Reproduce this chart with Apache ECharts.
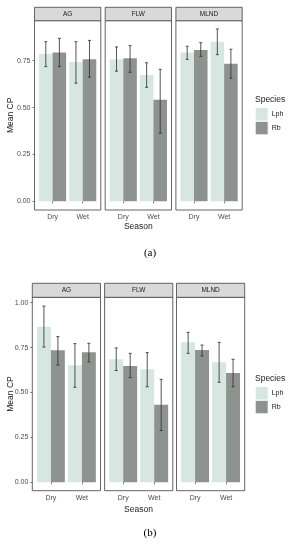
<!DOCTYPE html>
<html><head><meta charset="utf-8">
<script src="https://cdn.jsdelivr.net/npm/echarts@6/dist/echarts.min.js"></script>
<style>html,body{margin:0;padding:0;background:#fff}#c{width:294px;height:550px}</style>
</head><body><div id="c"></div>
<script>
// ---- data ----
const facets = ['AG', 'FLW', 'MLND'];
const seasons = ['Dry', 'Wet'];
const species = ['Lph', 'Rb'];
const yTicksA = [0, 0.25, 0.5, 0.75];
const yTicksB = [0, 0.25, 0.5, 0.75, 1.0];

// panel (a): [facet][season]
const aLphMean = [[0.786, 0.743], [0.757, 0.674], [0.793, 0.851]];
const aLphLo   = [[0.718, 0.630], [0.694, 0.608], [0.757, 0.782]];
const aLphHi   = [[0.851, 0.851], [0.823, 0.739], [0.827, 0.919]];
const aRbMean  = [[0.793, 0.757], [0.763, 0.541], [0.807, 0.734]];
const aRbLo    = [[0.718, 0.662], [0.688, 0.364], [0.773, 0.656]];
const aRbHi    = [[0.869, 0.858], [0.830, 0.704], [0.846, 0.811]];

// panel (b): [facet][season]
const bLphMean = [[0.866, 0.651], [0.685, 0.629], [0.779, 0.668]];
const bLphLo   = [[0.753, 0.529], [0.622, 0.532], [0.718, 0.557]];
const bLphHi   = [[0.981, 0.772], [0.748, 0.722], [0.835, 0.779]];
const bRbMean  = [[0.735, 0.724], [0.648, 0.432], [0.737, 0.608]];
const bRbLo    = [[0.653, 0.670], [0.583, 0.288], [0.703, 0.532]];
const bRbHi    = [[0.811, 0.774], [0.718, 0.573], [0.764, 0.685]];

// ---- layout / style ----
const FONT = 'Liberation Sans, Arial, sans-serif';
const colors = { Lph: '#d7e6e0', Rb: '#8e9390' };
const BORDER = '#555555';
const panels = [
  { lefts: [34.5, 105.2, 175.9], width: 66.3, stripTop: 7.3, top: 20.7, bottom: 210,
    ymin: -0.046, ymax: 0.963, ticks: yTicksA,
    data: { Lph: [aLphMean, aLphLo, aLphHi], Rb: [aRbMean, aRbLo, aRbHi] },
    legendTop: 108, speciesY: 100, seasonY: 227, capY: 253, cap: '(a)' },
  { lefts: [32.3, 104.6, 176.5], width: 68.2, stripTop: 283.3, top: 297.3, bottom: 490.7,
    ymin: -0.047, ymax: 1.03, ticks: yTicksB,
    data: { Lph: [bLphMean, bLphLo, bLphHi], Rb: [bRbMean, bRbLo, bRbHi] },
    legendTop: 387, speciesY: 379, seasonY: 510, capY: 533, cap: '(b)' }
];

const grid = [], xAxis = [], yAxis = [], series = [], graphic = [], legend = [];
let gi = 0;
panels.forEach((p, pi) => {
  p.lefts.forEach((left, fi) => {
    grid.push({ left: left, top: p.top, width: p.width, height: p.bottom - p.top,
      show: true, borderColor: BORDER, borderWidth: 0.9, backgroundColor: '#fff' });
    xAxis.push({ type: 'value', gridIndex: gi, min: 0.4, max: 2.6,
      axisLine: { show: false }, splitLine: { show: false },
      axisTick: { show: true, customValues: [1, 2], length: 2, lineStyle: { color: BORDER, width: 0.8 } },
      axisLabel: { show: true, customValues: [1, 2], formatter: v => seasons[Math.round(v) - 1],
        fontSize: 7, color: '#4d4d4d', fontFamily: FONT, margin: 4 } });
    yAxis.push({ type: 'value', gridIndex: gi, min: p.ymin, max: p.ymax,
      axisLine: { show: false }, splitLine: { show: false },
      axisTick: { show: fi === 0, customValues: p.ticks, length: 2, lineStyle: { color: BORDER, width: 0.8 } },
      axisLabel: { show: fi === 0, customValues: p.ticks, formatter: v => v.toFixed(2),
        fontSize: 7, color: '#4d4d4d', fontFamily: FONT, margin: 4 } });
    species.forEach((sp, si) => {
      const [mean, lo, hi] = p.data[sp];
      const off = si === 0 ? -0.225 : 0.225;
      series.push({
        type: 'custom', name: sp, xAxisIndex: gi, yAxisIndex: gi,
        itemStyle: { color: colors[sp] },
        data: seasons.map((s, k) => [k + 1, mean[fi][k], lo[fi][k], hi[fi][k]]),
        renderItem: (params, api) => {
          const x = api.value(0) + off, m = api.value(1), l = api.value(2), h = api.value(3);
          const a = api.coord([x - 0.225, m]), b = api.coord([x + 0.225, 0]);
          const c = api.coord([x, h]), d = api.coord([x, l]);
          const cw = api.size([0.1, 0])[0] / 2;
          const ls = { stroke: '#2b2b2b', lineWidth: 0.8 };
          return { type: 'group', children: [
            { type: 'rect', shape: { x: a[0], y: a[1], width: b[0] - a[0], height: b[1] - a[1] },
              style: { fill: colors[sp] } },
            { type: 'line', shape: { x1: c[0], y1: c[1], x2: d[0], y2: d[1] }, style: ls },
            { type: 'line', shape: { x1: c[0] - cw, y1: c[1], x2: c[0] + cw, y2: c[1] }, style: ls },
            { type: 'line', shape: { x1: d[0] - cw, y1: d[1], x2: d[0] + cw, y2: d[1] }, style: ls }
          ] };
        }
      });
    });
    // facet strip
    graphic.push({ type: 'rect', shape: { x: left, y: p.stripTop, width: p.width, height: p.top - p.stripTop },
      style: { fill: '#d9d9d9', stroke: BORDER, lineWidth: 0.9 } });
    graphic.push({ type: 'text', x: left + p.width / 2, y: (p.stripTop + p.top) / 2,
      style: { text: facets[fi], fontSize: 6.5, fill: '#1a1a1a', fontFamily: FONT, align: 'center', verticalAlign: 'middle' } });
    gi++;
  });
  const x0 = p.lefts[0], x1 = p.lefts[2] + p.width;
  graphic.push({ type: 'text', x: 11, y: (p.top + p.bottom) / 2, rotation: Math.PI / 2,
    style: { text: 'Mean CP', fontSize: 8.5, fill: '#1a1a1a', fontFamily: FONT, align: 'center', verticalAlign: 'middle' } });
  graphic.push({ type: 'text', x: (x0 + x1) / 2, y: p.seasonY,
    style: { text: 'Season', fontSize: 8.5, fill: '#1a1a1a', fontFamily: FONT, align: 'center', verticalAlign: 'middle' } });
  graphic.push({ type: 'text', x: 150, y: p.capY,
    style: { text: p.cap, fontSize: 11, fill: '#000', fontFamily: 'Liberation Serif, serif', align: 'center', verticalAlign: 'middle' } });
  graphic.push({ type: 'text', x: 255, y: p.speciesY,
    style: { text: 'Species', fontSize: 8.5, fill: '#1a1a1a', fontFamily: FONT, align: 'left', verticalAlign: 'middle' } });
  legend.push({ data: species, orient: 'vertical', left: 255.7, top: p.legendTop, padding: 0,
    itemWidth: 12, itemHeight: 12.5, itemGap: 1.3, icon: 'rect', selectedMode: false,
    textStyle: { fontSize: 7, color: '#1a1a1a', fontFamily: FONT, padding: [0, 0, 0, -1] } });
});

const chart = echarts.init(document.getElementById('c'), null, { renderer: 'canvas' });
chart.setOption({ animation: false, backgroundColor: '#fff', grid, xAxis, yAxis, series, graphic, legend });
</script></body></html>
